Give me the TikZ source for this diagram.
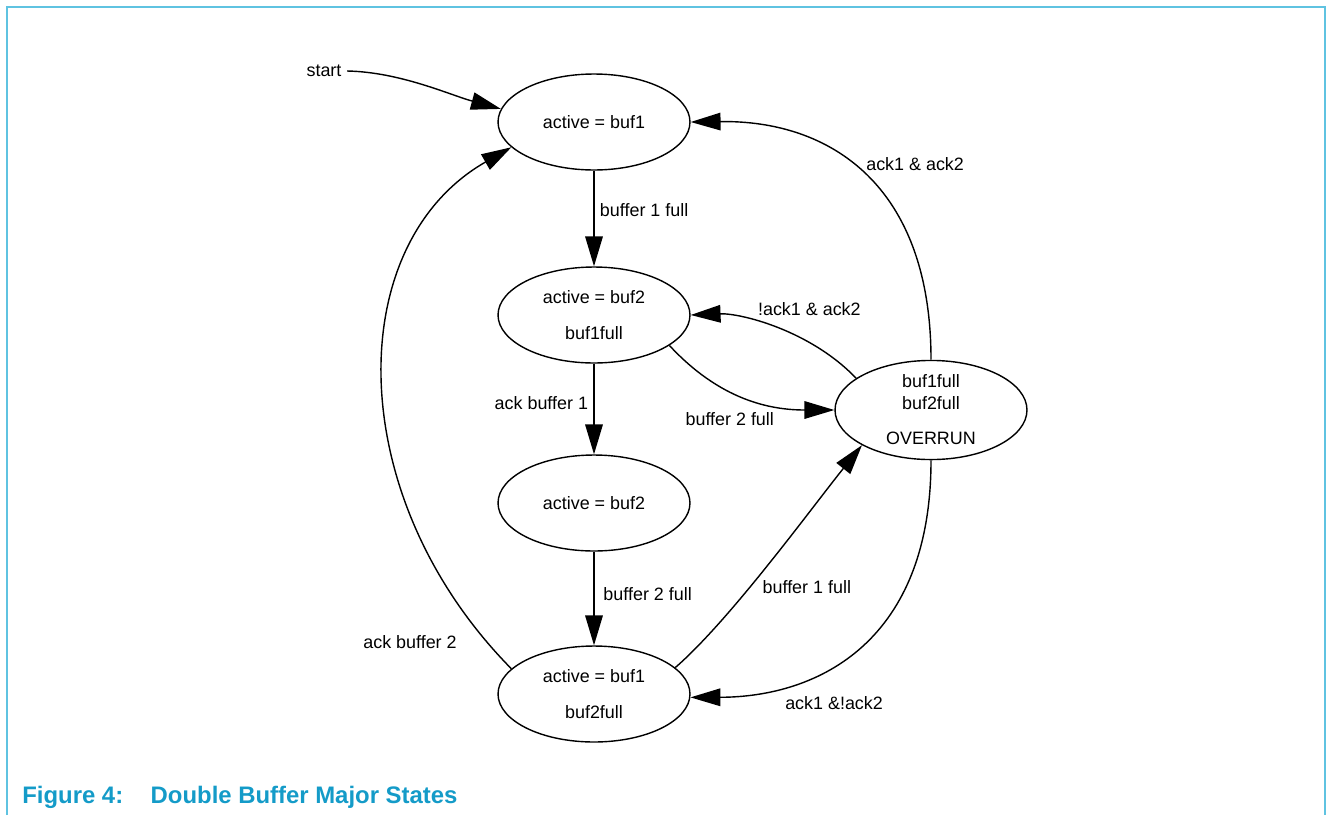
\documentclass[tikz,border=0pt]{standalone}
\usepackage{fontspec}
\setmainfont{Liberation Sans}
\usepackage{tikz}
\usetikzlibrary{arrows.meta,shapes.geometric}
\definecolor{FrameBlue}{RGB}{95,195,225}
\definecolor{CapBlue}{RGB}{20,155,200}
\tikzset{stt/.style={ellipse,draw=black,line width=0.8pt,minimum width=3.84cm,minimum height=1.92cm,inner sep=0pt,align=center,font=\fontsize{10.2}{12.2}\selectfont}, trans/.style={draw=black,line width=0.8pt,-{Triangle[length=17pt,width=10pt]}}, cond/.style={font=\fontsize{10.2}{12.2}\selectfont,inner sep=3pt}}

\begin{document}
\begin{tikzpicture}[x=0.02cm,y=-0.02cm]
\useasboundingbox (0,0) rectangle (1327,815);
\draw[FrameBlue,line width=1.1pt] (7,815) -- (7,7) -- (1325,7) -- (1325,815);
\coordinate (p1) at (594,122);
\coordinate (p2) at (594,315);
\coordinate (p3) at (594,503);
\coordinate (p4) at (594,694);
\coordinate (p5) at (931,410);
\node[cond] (start) at (324,71) {start};
\node[stt] (n1) at (p1) {active = buf1};
\node[stt] (n2) at (p2) {active = buf2\\[8pt]buf1full};
\node[stt] (n3) at (p3) {active = buf2};
\node[stt] (n4) at (p4) {active = buf1\\[8pt]buf2full};
\node[stt] (n5) at (p5) {buf1full\\buf2full\\[8pt]OVERRUN};
\draw[trans] (start.east) .. controls (400,72) and (450,95) .. (n1.172);
\draw[trans] (n1) -- node[cond,pos=0.41,right] (c1) {buffer 1 full} (n2);
\draw[trans] (n2) -- node[cond,pos=0.44,left] (c2) {ack buffer 1} (n3);
\draw[trans] (n3) -- node[cond,pos=0.45,right=2pt] (c3) {buffer 2 full} (n4);
\draw[trans] (n2.-22) .. controls (720,400) and (770,410) .. node[cond,pos=0.7,below left] (c4) {buffer 2 full} (n5.west);
\draw[trans] (n5.157) .. controls (810,330) and (740,313) .. node[cond,pos=0.3,above=12pt] (c5) {!ack1 \& ack2} (n2.east);
\draw[trans] (n5.north) .. controls (931,185) and (830,120) .. node[cond,pos=0.55,right=6pt] (c6) {ack1 \& ack2} (n1.east);
\draw[trans] (n4.163) .. controls (342,497) and (342,244) .. node[cond,pos=0.05,left=14pt] (c7) {ack buffer 2} (n1.197);
\draw[trans] (n4.18) .. controls (730,620) and (810,510) .. node[cond,pos=0.4,right=4pt] (c8) {buffer 1 full} (n5.207);
\draw[trans] (n5.south) .. controls (931,640) and (820,697) .. node[cond,pos=0.77,below right=2pt] (c9) {ack1 \&!ack2} (n4.-2);
\node[anchor=west,inner sep=0pt,text=CapBlue,font=\fontsize{13.6}{16}\selectfont\bfseries] (cap) at (22,797) {Figure 4:\hspace{1.15em}Double Buffer Major States};
\end{tikzpicture}
\end{document}
